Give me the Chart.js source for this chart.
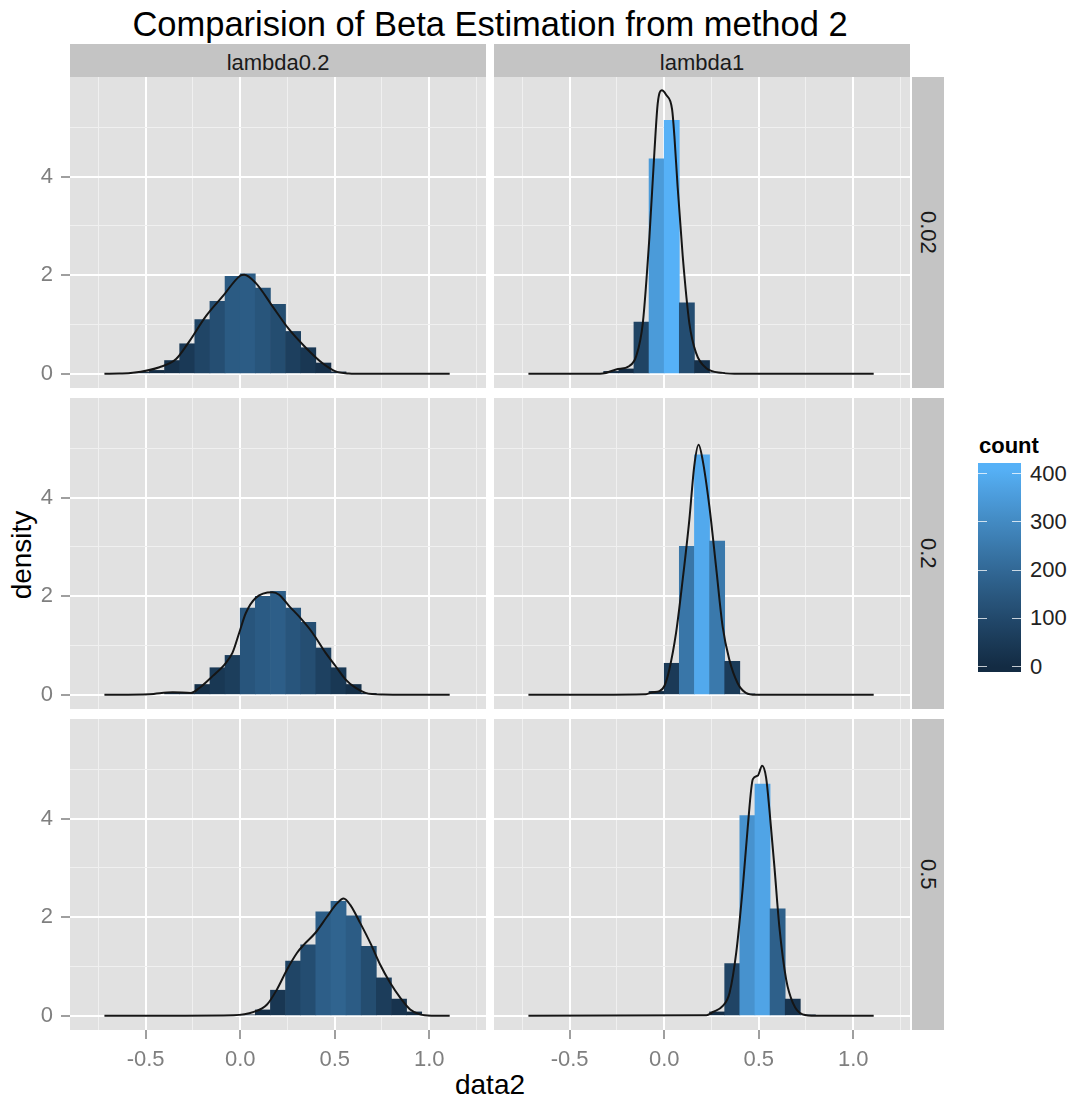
<!DOCTYPE html>
<html>
<head>
<meta charset="utf-8">
<title>Comparision of Beta Estimation from method 2</title>
<script src="https://cdn.jsdelivr.net/npm/chart.js@4.4.1/dist/chart.umd.min.js"></script>
<style>
  body { margin: 0; background: #fff; font-family: "Liberation Sans", Arial, sans-serif; }
  #page { position: relative; width: 1074px; height: 1102px; overflow: hidden; }
  .abs { position: absolute; white-space: nowrap; }
  .strip { background: #c4c4c4; color: #1a1a1a; font-size: 22px; text-align: center; }
  .legend-label { font-size: 22px; line-height: 22px; color: #222; }
</style>
</head>
<body>
<div id="page">
  <div class="abs" id="title" style="left:70px; top:7px; width:840px; font-size:34.5px; line-height:34px; text-align:center; color:#000;">Comparision of Beta Estimation from method 2</div>
  <div class="abs" id="xtitle" style="left:70px; top:1071px; width:840px; font-size:28px; line-height:28px; text-align:center; color:#000;">data2</div>
  <div class="abs" id="ytitle" style="left:-78px; top:538px; width:200px; height:34px; font-size:28px; line-height:34px; text-align:center; color:#000; transform:rotate(-90deg);">density</div>
  <div class="abs" id="legendTitle" style="left:979px; top:435px; font-size:22px; line-height:22px; font-weight:bold; color:#000;">count</div>
  <div class="abs" id="colorbar" style="left:978px; top:463px; width:43px; height:209px;"></div>
</div>
<script>
// facets
const colLabels = ['lambda0.2', 'lambda1'];
const rowLabels = ['0.02', '0.2', '0.5'];

// axis breaks
const xMajor = [-0.5, 0, 0.5, 1.0];
const xMinor = [-0.75, -0.25, 0.25, 0.75, 1.25];
const yMajor = [0, 2, 4];
const yMinor = [1, 3, 5];
const countBreaks = [0, 100, 200, 300, 400];

// histogram settings (1000 estimates per facet)
const binWidth = 0.08;
const sampleSize = 1000;

// histogram densities per facet: left edge of first bin + bar heights
const histStart02_002 = -0.56;
const hist02_002 = [0.03, 0.07, 0.27, 0.61, 1.10, 1.47, 1.98, 2.03, 1.74, 1.41, 0.86, 0.53, 0.22, 0.04];
const histStart1_002 = -0.32;
const hist1_002 = [0.05, 0.10, 1.05, 4.36, 5.14, 1.44, 0.27, 0.02];
const histStart02_02 = -0.40;
const hist02_02 = [0.05, 0.03, 0.21, 0.55, 0.80, 1.76, 2.00, 2.10, 1.76, 1.47, 0.95, 0.55, 0.21, 0.03];
const histStart1_02 = -0.08;
const hist1_02 = [0.07, 0.64, 3.01, 4.87, 3.12, 0.68, 0.02];
const histStart02_05 = 0.0;
const hist02_05 = [0.02, 0.12, 0.52, 1.11, 1.44, 2.11, 2.32, 2.03, 1.41, 0.77, 0.34, 0.08];
const histStart1_05 = 0.24;
const hist1_05 = [0.08, 1.06, 4.06, 4.70, 2.17, 0.34, 0.02];

// kernel density curves per facet
const densX02_002 = [-0.718, -0.64, -0.568, -0.427, -0.339, -0.269, -0.181, -0.093, 0.0, 0.021, 0.083, 0.171, 0.259, 0.347, 0.434, 0.505, 0.575, 0.65, 1.108];
const densY02_002 = [0, 0.005, 0.02, 0.135, 0.30, 0.66, 1.17, 1.57, 1.99, 2.01, 1.84, 1.37, 0.90, 0.53, 0.22, 0.05, 0.007, 0, 0];
const densX1_002 = [-0.718, -0.40, -0.325, -0.254, -0.184, -0.148, -0.113, -0.078, -0.052, -0.034, -0.013, 0.010, 0.042, 0.054, 0.071, 0.098, 0.133, 0.168, 0.221, 0.309, 0.40, 1.108];
const densY1_002 = [0, 0, 0.007, 0.09, 0.16, 0.36, 1.03, 2.78, 4.48, 5.49, 5.75, 5.66, 5.36, 4.82, 3.80, 2.39, 1.03, 0.43, 0.12, 0.02, 0, 0];
const densX02_02 = [-0.718, -0.48, -0.357, -0.26, -0.216, -0.146, -0.084, -0.041, -0.005, 0.030, 0.083, 0.171, 0.206, 0.259, 0.311, 0.382, 0.452, 0.505, 0.558, 0.611, 0.663, 0.751, 1.108];
const densY02_02 = [0, 0.014, 0.054, 0.04, 0.14, 0.38, 0.61, 0.85, 1.26, 1.66, 1.97, 2.08, 2.03, 1.80, 1.59, 1.26, 0.85, 0.58, 0.31, 0.14, 0.04, 0.007, 0];
const densX1_02 = [-0.718, -0.096, -0.061, -0.025, 0.001, 0.027, 0.063, 0.098, 0.133, 0.159, 0.182, 0.203, 0.239, 0.274, 0.309, 0.344, 0.388, 0.432, 0.485, 1.108];
const densY1_02 = [0, 0.014, 0.054, 0.074, 0.18, 0.51, 1.26, 2.34, 3.55, 4.64, 5.07, 4.77, 3.82, 2.61, 1.39, 0.72, 0.24, 0.04, 0, 0];
const densX02_05 = [-0.718, -0.034, 0.072, 0.142, 0.195, 0.248, 0.301, 0.336, 0.397, 0.459, 0.512, 0.547, 0.582, 0.635, 0.688, 0.740, 0.793, 0.846, 0.899, 0.951, 1.02, 1.108];
const densY02_05 = [0, 0.013, 0.08, 0.23, 0.54, 0.94, 1.28, 1.44, 1.68, 2.01, 2.28, 2.38, 2.25, 1.88, 1.48, 1.04, 0.67, 0.37, 0.13, 0.03, 0.003, 0];
const densX1_05 = [-0.718, 0.223, 0.258, 0.310, 0.346, 0.381, 0.416, 0.442, 0.469, 0.495, 0.518, 0.539, 0.557, 0.583, 0.609, 0.645, 0.680, 0.732, 0.80, 1.108];
const densY1_05 = [0, 0.013, 0.08, 0.20, 0.47, 1.28, 2.62, 3.83, 4.80, 4.87, 5.07, 4.83, 4.16, 3.02, 1.81, 0.74, 0.27, 0.03, 0, 0];

// facet table: [row][col]
const facets = [
  [[histStart02_002, hist02_002, densX02_002, densY02_002], [histStart1_002, hist1_002, densX1_002, densY1_002]],
  [[histStart02_02, hist02_02, densX02_02, densY02_02], [histStart1_02, hist1_02, densX1_02, densY1_02]],
  [[histStart02_05, hist02_05, densX02_05, densY02_05], [histStart1_05, hist1_05, densX1_05, densY1_05]]
];

// layout
const PANEL_W = 416, PANEL_H = 311;
const colLeft = [70, 494];
const rowTop = [77, 398, 719];
const Y_AXIS_W = 70, X_AXIS_H = 60;
const X_MIN = -0.9, X_MAX = 1.3;
const Y_MIN = -0.287, Y_MAX = 6.02;
const PANEL_BG = '#e1e1e1';
const MINOR_GRID = '#f0f0f0';
const AXIS_GREY = '#7f7f7f';
const LOW = '#132B43', HIGH = '#56B1F7';

Chart.defaults.font.family = '"Liberation Sans", Arial, sans-serif';

// ---- fill gradient, interpolated in Lab like ggplot's default ----
const WHITE = [0.95047, 1, 1.08883];
function hexToRgb(h) { return [1, 3, 5].map(i => parseInt(h.slice(i, i + 2), 16)); }
function toLinear(c) { c /= 255; return c <= 0.04045 ? c / 12.92 : Math.pow((c + 0.055) / 1.055, 2.4); }
function fromLinear(c) {
  const v = c <= 0.0031308 ? 12.92 * c : 1.055 * Math.pow(c, 1 / 2.4) - 0.055;
  return Math.round(Math.min(1, Math.max(0, v)) * 255);
}
function rgbToLab(rgb) {
  const [r, g, b] = rgb.map(toLinear);
  const xyz = [0.4124 * r + 0.3576 * g + 0.1805 * b, 0.2126 * r + 0.7152 * g + 0.0722 * b, 0.0193 * r + 0.1192 * g + 0.9505 * b];
  const f = xyz.map((v, i) => { const t = v / WHITE[i]; return t > 0.008856 ? Math.cbrt(t) : 7.787 * t + 16 / 116; });
  return [116 * f[1] - 16, 500 * (f[0] - f[1]), 200 * (f[1] - f[2])];
}
function labToRgb([L, a, b]) {
  const fy = (L + 16) / 116, fx = fy + a / 500, fz = fy - b / 200;
  const inv = t => (t * t * t > 0.008856 ? t * t * t : (t - 16 / 116) / 7.787);
  const x = inv(fx) * WHITE[0], y = inv(fy) * WHITE[1], z = inv(fz) * WHITE[2];
  return [3.2406 * x - 1.5372 * y - 0.4986 * z, -0.9689 * x + 1.8758 * y + 0.0415 * z, 0.0557 * x - 0.2040 * y + 1.0570 * z].map(fromLinear);
}
const labLow = rgbToLab(hexToRgb(LOW)), labHigh = rgbToLab(hexToRgb(HIGH));
function gradientColour(t) {
  const lab = labLow.map((v, i) => v + (labHigh[i] - v) * t);
  const [r, g, b] = labToRgb(lab);
  return `rgb(${r},${g},${b})`;
}

const toCount = d => d * sampleSize * binWidth;
const maxCount = Math.max(...facets.flat().map(f => Math.max(...f[1].map(toCount))));
const fillFor = d => gradientColour(toCount(d) / maxCount);

const near = (list, v) => v !== undefined && list.some(m => Math.abs(m - v) < 1e-9);
const tickVal = ctx => (ctx.tick ? ctx.tick.value : undefined);
const isMajorX = v => near(xMajor, v);
const isMajorY = v => near(yMajor, v);

const panelBackground = {
  id: 'panelBackground',
  beforeDraw(chart) {
    const { ctx, chartArea: a } = chart;
    ctx.save();
    ctx.fillStyle = PANEL_BG;
    ctx.fillRect(a.left, a.top, a.right - a.left, a.bottom - a.top);
    ctx.restore();
  }
};

// grid + tick-mark styling shared by both axes
function gridFor(isMajor, showTicks) {
  return {
    offset: false,
    color: ctx => (isMajor(tickVal(ctx)) ? '#ffffff' : MINOR_GRID),
    lineWidth: ctx => (isMajor(tickVal(ctx)) ? 2 : 1),
    drawTicks: showTicks, tickLength: 9,
    tickColor: ctx => (isMajor(tickVal(ctx)) ? AXIS_GREY : 'rgba(0,0,0,0)'),
    tickWidth: 1.5
  };
}

const page = document.getElementById('page');

facets.forEach((row, r) => {
  row.forEach(([start, heights, dx, dy], c) => {
    const showY = c === 0, showX = r === 2;
    const canvas = document.createElement('canvas');
    const w = PANEL_W + (showY ? Y_AXIS_W : 0);
    const h = PANEL_H + (showX ? X_AXIS_H : 0);
    canvas.width = w; canvas.height = h;
    canvas.className = 'abs';
    canvas.style.left = (colLeft[c] - (showY ? Y_AXIS_W : 0)) + 'px';
    canvas.style.top = rowTop[r] + 'px';
    canvas.style.width = w + 'px'; canvas.style.height = h + 'px';
    page.appendChild(canvas);

    const bars = heights.map((d, i) => ({ x: start + (i + 0.5) * binWidth, y: d }));
    const curve = dx.map((x, i) => ({ x, y: dy[i] }));

    new Chart(canvas, {
      type: 'bar',
      data: {
        datasets: [
          {
            type: 'line', data: curve, order: 0,
            borderColor: '#151515', borderWidth: 2, pointRadius: 0,
            cubicInterpolationMode: 'monotone', fill: false
          },
          {
            type: 'bar', data: bars, order: 1,
            backgroundColor: heights.map(fillFor), borderWidth: 0,
            barPercentage: 1, categoryPercentage: 1
          }
        ]
      },
      options: {
        responsive: false, animation: false, events: [],
        layout: { padding: 0 },
        plugins: { legend: { display: false }, tooltip: { enabled: false } },
        scales: {
          x: {
            type: 'linear', min: X_MIN, max: X_MAX, offset: false,
            afterBuildTicks: s => { s.ticks = [...xMajor, ...xMinor].sort((a, b) => a - b).map(v => ({ value: v })); },
            afterFit: s => { s.height = showX ? X_AXIS_H : 0; s.paddingLeft = s.paddingRight = 0; s.paddingTop = s.paddingBottom = 0; },
            border: { display: false },
            grid: gridFor(isMajorX, showX),
            ticks: {
              display: showX, autoSkip: false, maxRotation: 0, padding: 8,
              color: AXIS_GREY, font: { size: 22 },
              callback: v => (isMajorX(v) ? v.toFixed(1) : '')
            }
          },
          y: {
            type: 'linear', min: Y_MIN, max: Y_MAX,
            afterBuildTicks: s => { s.ticks = [...yMajor, ...yMinor].sort((a, b) => a - b).map(v => ({ value: v })); },
            afterFit: s => { s.width = showY ? Y_AXIS_W : 0; s.paddingTop = s.paddingBottom = 0; s.paddingLeft = s.paddingRight = 0; },
            border: { display: false },
            grid: gridFor(isMajorY, showY),
            ticks: {
              display: showY, autoSkip: false, padding: 8,
              color: AXIS_GREY, font: { size: 22 },
              callback: v => (isMajorY(v) ? String(v) : '')
            }
          }
        }
      },
      plugins: [panelBackground]
    });
  });
});

// facet strips
colLabels.forEach((label, c) => {
  const d = document.createElement('div');
  d.className = 'abs strip';
  Object.assign(d.style, { left: colLeft[c] + 'px', top: '44px', width: PANEL_W + 'px', height: '33px', lineHeight: '38px' });
  d.textContent = label;
  page.appendChild(d);
});
rowLabels.forEach((label, r) => {
  const d = document.createElement('div');
  d.className = 'abs strip';
  Object.assign(d.style, {
    left: (colLeft[1] + PANEL_W + 2) + 'px', top: rowTop[r] + 'px', width: '32px', height: PANEL_H + 'px',
    lineHeight: '32px', writingMode: 'vertical-rl'
  });
  d.textContent = label;
  page.appendChild(d);
});

// colour bar legend
const bar = document.getElementById('colorbar');
const BAR_TOP = 463, BAR_H = 209, BAR_LEFT = 978, BAR_W = 43;
const stops = [];
for (let i = 0; i <= 20; i++) stops.push(`${gradientColour(i / 20)} ${(2.5 + i * 4.75).toFixed(2)}%`);
bar.style.background = `linear-gradient(to top, ${stops.join(', ')})`;
const inner = BAR_H * 19 / 20;
countBreaks.forEach(v => {
  const y = BAR_TOP + BAR_H - BAR_H / 40 - (v / maxCount) * inner;
  [BAR_LEFT, BAR_LEFT + BAR_W - BAR_W / 5].forEach(x => {
    const t = document.createElement('div');
    t.className = 'abs';
    Object.assign(t.style, { left: x + 'px', top: (y - 0.5) + 'px', width: (BAR_W / 5) + 'px', height: '1px', background: 'rgba(255,255,255,0.75)' });
    page.appendChild(t);
  });
  const l = document.createElement('div');
  l.className = 'abs legend-label';
  Object.assign(l.style, { left: '1030px', top: (y - 11) + 'px' });
  l.textContent = String(v);
  page.appendChild(l);
});
</script>
</body>
</html>
